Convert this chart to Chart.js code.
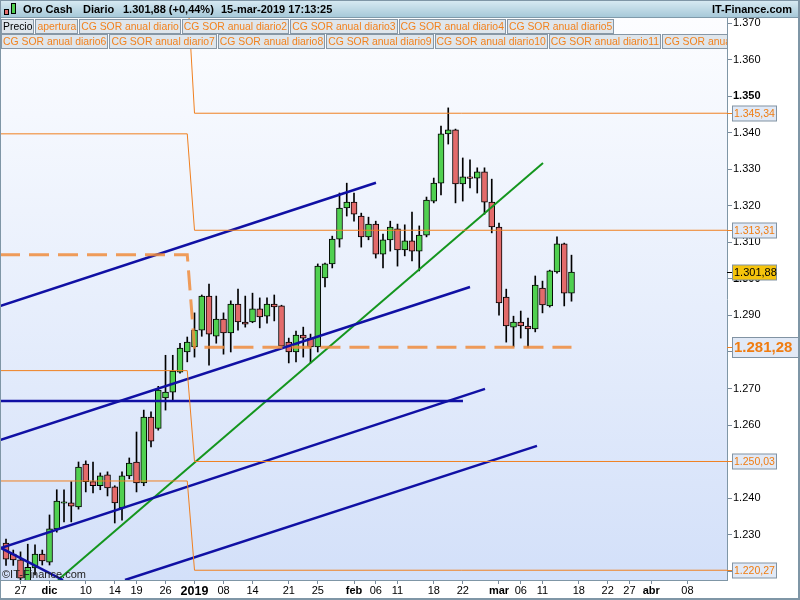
<!DOCTYPE html>
<html>
<head>
<meta charset="utf-8">
<script src="https://cdn.jsdelivr.net/npm/chart.js@4.4.1/dist/chart.umd.min.js"></script>
<style>
  body { margin: 0; background: #fff; }
  #wrap { position: relative; width: 800px; height: 600px; overflow: hidden; font-family: "Liberation Sans", Arial, sans-serif; }
  #chart { position: absolute; left: 0; top: 0; }
  #head { position: absolute; left: 0; top: 0; width: 800px; height: 18px; box-sizing: border-box;
          background: linear-gradient(#d9ebf3, #a7c9d9); border-bottom: 1px solid #7f9aaa;
          font-size: 11px; font-weight: bold; color: #000; }
  #head .t { position: absolute; top: 3px; white-space: nowrap; }
  .ic { position: absolute; border: 1px solid #000; width: 3px; }
  .row { position: absolute; left: 1px; height: 15px; white-space: nowrap; overflow: hidden; font-size: 0; }
  .row span { display: inline-block; height: 13px; line-height: 13px; padding: 0 1px; margin-right: 1px;
              border: 1px solid #8797a5; background: #dfe6ec; color: #f2821e; font-size: 10.4px; vertical-align: top; }
  .row span.k { color: #000; }
  #mark { position: absolute; left: 2px; top: 568px; font-size: 11px; color: #222; }
  #frame { position: absolute; left: 0; top: 0; width: 800px; height: 600px; box-sizing: border-box;
           border: 1px solid #7f96a6; border-right-width: 2px; border-bottom-width: 2px; pointer-events: none; }
</style>
</head>
<body>
<div id="wrap">
  <canvas id="chart" width="800" height="600"></canvas>
  <div id="head">
    <div class="ic" style="left:4px;top:9px;height:4px;background:#e36b6b"></div>
    <div class="ic" style="left:11px;top:3px;height:9px;background:#50d050"></div>
    <span class="t" style="left:23px">Oro Cash</span>
    <span class="t" style="left:83px">Diario</span>
    <span class="t" style="left:123px">1.301,88 (+0,44%)</span>
    <span class="t" style="left:221px">15-mar-2019 17:13:25</span>
    <span class="t" style="right:8px">IT-Finance.com</span>
  </div>
  <div class="row" id="row1" style="top:19px;width:726px"></div>
  <div class="row" id="row2" style="top:34px;width:726px"></div>
  <div id="mark">©IT-Finance.com</div>
  <div id="frame"></div>
</div>
<script>
// daily candles, index 0 = 23-nov-2018 (trading days only)
const opens = [1227.7, 1224.7, 1223.1, 1217.0, 1220.9, 1224.7, 1222.5, 1231.6, 1238.6, 1238.7,
  1237.6, 1249.3, 1244.5, 1243.4, 1246.4, 1243.1, 1237.3, 1246.1, 1249.9, 1244.2,
  1262.2, 1259.1, 1267.4, 1269.0, 1274.5, 1280.0, 1281.4, 1286.0, 1295.3, 1284.3,
  1289.0, 1285.2, 1293.1, 1288.2, 1288.2, 1291.8, 1289.8, 1293.1, 1292.6, 1282.7,
  1280.0, 1284.6, 1283.8, 1281.4, 1300.3, 1304.1, 1310.9, 1319.4, 1321.0, 1317.2,
  1311.5, 1315.0, 1306.8, 1310.7, 1313.7, 1307.9, 1310.4, 1307.6, 1312.0, 1321.3,
  1326.2, 1339.7, 1340.8, 1326.0, 1327.9, 1327.6, 1329.3, 1321.0, 1314.2, 1295.0,
  1286.8, 1288.2, 1287.1, 1286.3, 1297.5, 1292.6, 1301.9, 1309.6, 1296.1];
const highs = [1228.8, 1225.8, 1225.3, 1227.4, 1227.2, 1225.8, 1235.4, 1242.3, 1242.3, 1244.5,
  1249.9, 1250.2, 1249.9, 1246.9, 1247.2, 1243.4, 1247.2, 1251.0, 1258.1, 1264.1,
  1263.6, 1270.6, 1279.1, 1279.1, 1282.4, 1284.1, 1290.7, 1295.6, 1298.6, 1295.3,
  1290.7, 1294.0, 1297.2, 1295.3, 1296.1, 1294.8, 1294.8, 1295.6, 1292.8, 1283.8,
  1285.7, 1286.8, 1284.9, 1304.1, 1304.3, 1311.7, 1323.5, 1326.2, 1323.5, 1318.0,
  1316.9, 1315.8, 1312.3, 1315.8, 1315.0, 1314.8, 1318.3, 1314.5, 1322.4, 1327.6,
  1341.8, 1346.8, 1341.0, 1333.1, 1332.6, 1330.4, 1330.4, 1327.3, 1315.3, 1297.2,
  1289.8, 1291.2, 1289.3, 1300.8, 1299.4, 1302.4, 1311.5, 1309.8, 1306.5];
const lows = [1221.6, 1221.6, 1216.8, 1216.0, 1219.0, 1221.7, 1221.7, 1230.7, 1233.5, 1233.5,
  1237.0, 1241.7, 1241.4, 1242.3, 1240.6, 1233.2, 1234.0, 1245.3, 1241.7, 1243.4,
  1254.0, 1258.6, 1264.1, 1266.9, 1274.2, 1277.3, 1278.6, 1284.3, 1276.4, 1282.4,
  1279.4, 1280.0, 1286.0, 1286.8, 1288.0, 1286.6, 1287.9, 1288.5, 1281.5, 1277.0,
  1277.3, 1278.6, 1277.0, 1280.0, 1297.8, 1303.0, 1308.7, 1317.2, 1315.8, 1308.7,
  1310.7, 1305.7, 1303.0, 1307.6, 1303.5, 1306.3, 1304.9, 1302.2, 1311.5, 1320.8,
  1323.0, 1336.9, 1320.8, 1321.3, 1324.9, 1323.5, 1317.7, 1312.6, 1290.1, 1282.7,
  1281.4, 1283.8, 1281.3, 1285.5, 1290.7, 1292.3, 1301.6, 1292.6, 1293.9];
const closes = [1223.3, 1223.1, 1218.1, 1221.1, 1224.7, 1222.8, 1231.6, 1239.2, 1239.0, 1237.8,
  1248.5, 1244.5, 1243.4, 1246.1, 1242.8, 1238.7, 1246.1, 1249.6, 1244.2, 1262.2,
  1255.6, 1269.6, 1269.0, 1274.8, 1281.1, 1282.7, 1286.0, 1295.3, 1284.9, 1289.0,
  1285.2, 1293.1, 1288.2, 1287.6, 1291.8, 1289.6, 1293.1, 1292.3, 1281.6, 1280.0,
  1284.6, 1283.8, 1281.4, 1303.5, 1304.1, 1310.9, 1319.4, 1321.0, 1317.7, 1311.5,
  1315.0, 1306.8, 1310.7, 1314.2, 1307.9, 1310.4, 1307.6, 1312.0, 1321.6, 1326.2,
  1339.7, 1340.8, 1326.0, 1327.9, 1327.5, 1329.3, 1321.0, 1314.2, 1293.4, 1287.1,
  1288.2, 1287.1, 1286.3, 1298.3, 1292.9, 1302.2, 1309.6, 1296.1, 1301.88];

// x axis: trading-day index of each labelled date
const xTickIdx = [2, 6, 11, 15, 18, 22, 26, 30, 34, 39, 43, 48, 51, 54, 59, 63, 68, 71, 74, 79, 83, 86, 89, 94];
const xTickLabels = ['27', 'dic', '10', '14', '19', '26', '2019', '08', '14', '21', '25', 'feb', '06', '11',
  '18', '22', 'mar', '06', '11', '18', '22', '27', 'abr', '08'];
const yTicks = [1220, 1230, 1240, 1250, 1260, 1270, 1280, 1290, 1300, 1310, 1320, 1330, 1340, 1350, 1360, 1370];

// CG SOR annual levels: 2018 value -> 2019 value (switch between idx 25 and 26)
const sorPrev = [1380.0, 1339.7, 1274.9, 1244.7];
const sorCurr = [1345.34, 1313.31, 1250.03, 1220.27];
const openPrev = 1306.6;
const openCurr = 1281.28;
const lastClose = 1301.88;

// hand drawn trend lines, [x0, y0, x1, y1] in (index, price)
const blueLines = [
  [-0.83, 1292.6, 51.03, 1326.3],
  [-0.83, 1255.9, 64.0, 1297.8],
  [-0.83, 1266.6, 63.03, 1266.6],
  [-0.83, 1226.3, 66.07, 1269.9],
  [-0.83, 1226.5, 7.86, 1217.6],
  [16.41, 1217.6, 73.24, 1254.3]
];
const greenLine = [7.17, 1217.6, 74.07, 1331.7];

const legendRow1 = ['Precio', 'apertura', 'CG SOR anual diario', 'CG SOR anual diario2', 'CG SOR anual diario3',
  'CG SOR anual diario4', 'CG SOR anual diario5'];
const legendRow2 = ['CG SOR anual diario6', 'CG SOR anual diario7', 'CG SOR anual diario8', 'CG SOR anual diario9',
  'CG SOR anual diario10', 'CG SOR anual diario11', 'CG SOR anual diario12'];

function fillRow(id, labels) {
  const row = document.getElementById(id);
  labels.forEach(t => {
    const s = document.createElement('span');
    s.textContent = t;
    if (t === 'Precio') s.className = 'k';
    row.appendChild(s);
  });
}
fillRow('row1', legendRow1);
fillRow('row2', legendRow2);

const fmtTick = v => { const s = String(Math.round(v)); return s[0] + '.' + s.slice(1); };
const fmtPrice = v => { const s = v.toFixed(2).replace('.', ','); return s[0] + '.' + s.slice(1); };

const GREEN = '#50d050', RED = '#e36b6b', ORANGE = '#f08020', BLUE = '#1010a4';

const segment = (a, color, width) => ({
  type: 'line',
  data: [{ x: a[0], y: a[1] }, { x: a[2], y: a[3] }],
  borderColor: color, borderWidth: width, pointRadius: 0, fill: false, order: 0
});

const datasets = [];
// wicks
datasets.push({
  type: 'bar',
  data: lows.map((l, i) => ({ x: i, y: [l, highs[i]] })),
  backgroundColor: '#000', borderWidth: 0, barThickness: 1, grouped: false, order: 2
});
// bodies
datasets.push({
  type: 'bar',
  data: opens.map((o, i) => ({ x: i, y: [o, closes[i]] })),
  backgroundColor: opens.map((o, i) => closes[i] >= o ? GREEN : RED),
  borderColor: '#000', borderWidth: 1, borderSkipped: false, barThickness: 6, grouped: false, order: 1
});
// annual levels
sorPrev.forEach((p, k) => {
  datasets.push({
    type: 'line',
    data: [{ x: -0.83, y: p }, { x: 25, y: p }, { x: 26, y: sorCurr[k] }, { x: 100, y: sorCurr[k] }],
    borderColor: ORANGE, borderWidth: 1, pointRadius: 0, fill: false, order: 0
  });
});
datasets.push({
  type: 'line',
  data: [{ x: -0.83, y: openPrev }, { x: 25, y: openPrev }, { x: 26, y: openCurr }, { x: 78, y: openCurr }],
  borderColor: 'rgba(240,140,60,0.85)', borderWidth: 3, borderDash: [20, 9], pointRadius: 0, fill: false, order: 0
});
blueLines.forEach(b => datasets.push(segment(b, BLUE, 2.5)));
datasets.push(segment(greenLine, '#14961e', 2));

const bgPlugin = {
  id: 'bg',
  beforeDraw(chart) {
    const { ctx, chartArea: a } = chart;
    ctx.save();
    ctx.fillStyle = '#fff';
    ctx.fillRect(0, 0, chart.width, chart.height);
    const g = ctx.createLinearGradient(0, a.top, 0, a.bottom);
    g.addColorStop(0, '#fcfdff');
    g.addColorStop(1, '#d3e0f9');
    ctx.fillStyle = g;
    ctx.fillRect(a.left, a.top, a.right - a.left, a.bottom - a.top);
    ctx.restore();
  }
};

const tagPlugin = {
  id: 'tags',
  afterDraw(chart) {
    const { ctx } = chart;
    const ys = chart.scales.y;
    const x0 = chart.chartArea.right;
    const tag = (v, opt) => {
      const y = Math.round(ys.getPixelForValue(v)) + 0.5;
      ctx.save();
      ctx.strokeStyle = opt.tick;
      ctx.lineWidth = 1;
      ctx.beginPath(); ctx.moveTo(x0, y); ctx.lineTo(x0 + 5, y); ctx.stroke();
      ctx.fillStyle = opt.bg;
      ctx.fillRect(x0 + 5, y - opt.h / 2, opt.w, opt.h);
      ctx.strokeStyle = '#8193a3';
      ctx.strokeRect(x0 + 5.5, y - opt.h / 2, opt.w - 1, opt.h);
      ctx.fillStyle = opt.color;
      ctx.font = opt.font;
      ctx.textBaseline = 'middle';
      ctx.fillText(fmtPrice(v), x0 + 7, y + 0.5);
      ctx.restore();
    };
    sorCurr.forEach(v => tag(v, { tick: ORANGE, bg: '#e1e9f6', w: 45, h: 15, color: '#f07c10', font: '10.5px "Liberation Sans", Arial' }));
    tag(openCurr, { tick: ORANGE, bg: '#e1e9f6', w: 67, h: 20, color: '#f07c10', font: 'bold 15px "Liberation Sans", Arial' });
    tag(lastClose, { tick: '#000', bg: '#f6c40c', w: 45, h: 15, color: '#000', font: '11px "Liberation Sans", Arial' });
  }
};

new Chart(document.getElementById('chart'), {
  type: 'bar',
  data: { datasets },
  options: {
    responsive: false,
    devicePixelRatio: 1,
    animation: false,
    layout: { padding: { top: 18, left: 0, right: 0, bottom: 0 } },
    plugins: { legend: { display: false }, tooltip: { enabled: false } },
    scales: {
      x: {
        type: 'linear', min: -0.83, max: 99.45, offset: false,
        afterBuildTicks: s => { s.ticks = xTickIdx.map(v => ({ value: v })); },
        afterFit: s => { s.height = 20; },
        grid: { drawOnChartArea: false, offset: false, tickLength: 4, color: '#7a8a9a' },
        border: { color: '#7f96a6' },
        ticks: {
          maxRotation: 0, autoSkip: false, padding: 0, color: '#000',
          callback: v => xTickLabels[xTickIdx.indexOf(v)],
          font: ctx => {
            const lab = ctx.tick ? xTickLabels[xTickIdx.indexOf(ctx.tick.value)] : '';
            const big = lab === '2019';
            const bold = big || /[a-z]/.test(lab);
            return { family: '"Liberation Sans", Arial', size: big ? 12.5 : 11, weight: bold ? 'bold' : 'normal' };
          }
        }
      },
      y: {
        position: 'right', min: 1217.6, max: 1371.4,
        afterBuildTicks: s => { s.ticks = yTicks.map(v => ({ value: v })); },
        afterFit: s => { s.width = 73; },
        grid: { drawOnChartArea: false, tickLength: 5, color: '#7a8a9a' },
        border: { color: '#7f96a6' },
        ticks: {
          padding: 1, color: '#000',
          callback: v => fmtTick(v),
          font: ctx => ({ family: '"Liberation Sans", Arial', size: 11,
            weight: ctx.tick && ctx.tick.value % 50 === 0 ? 'bold' : 'normal' })
        }
      }
    }
  },
  plugins: [bgPlugin, tagPlugin]
});
</script>
</body>
</html>
